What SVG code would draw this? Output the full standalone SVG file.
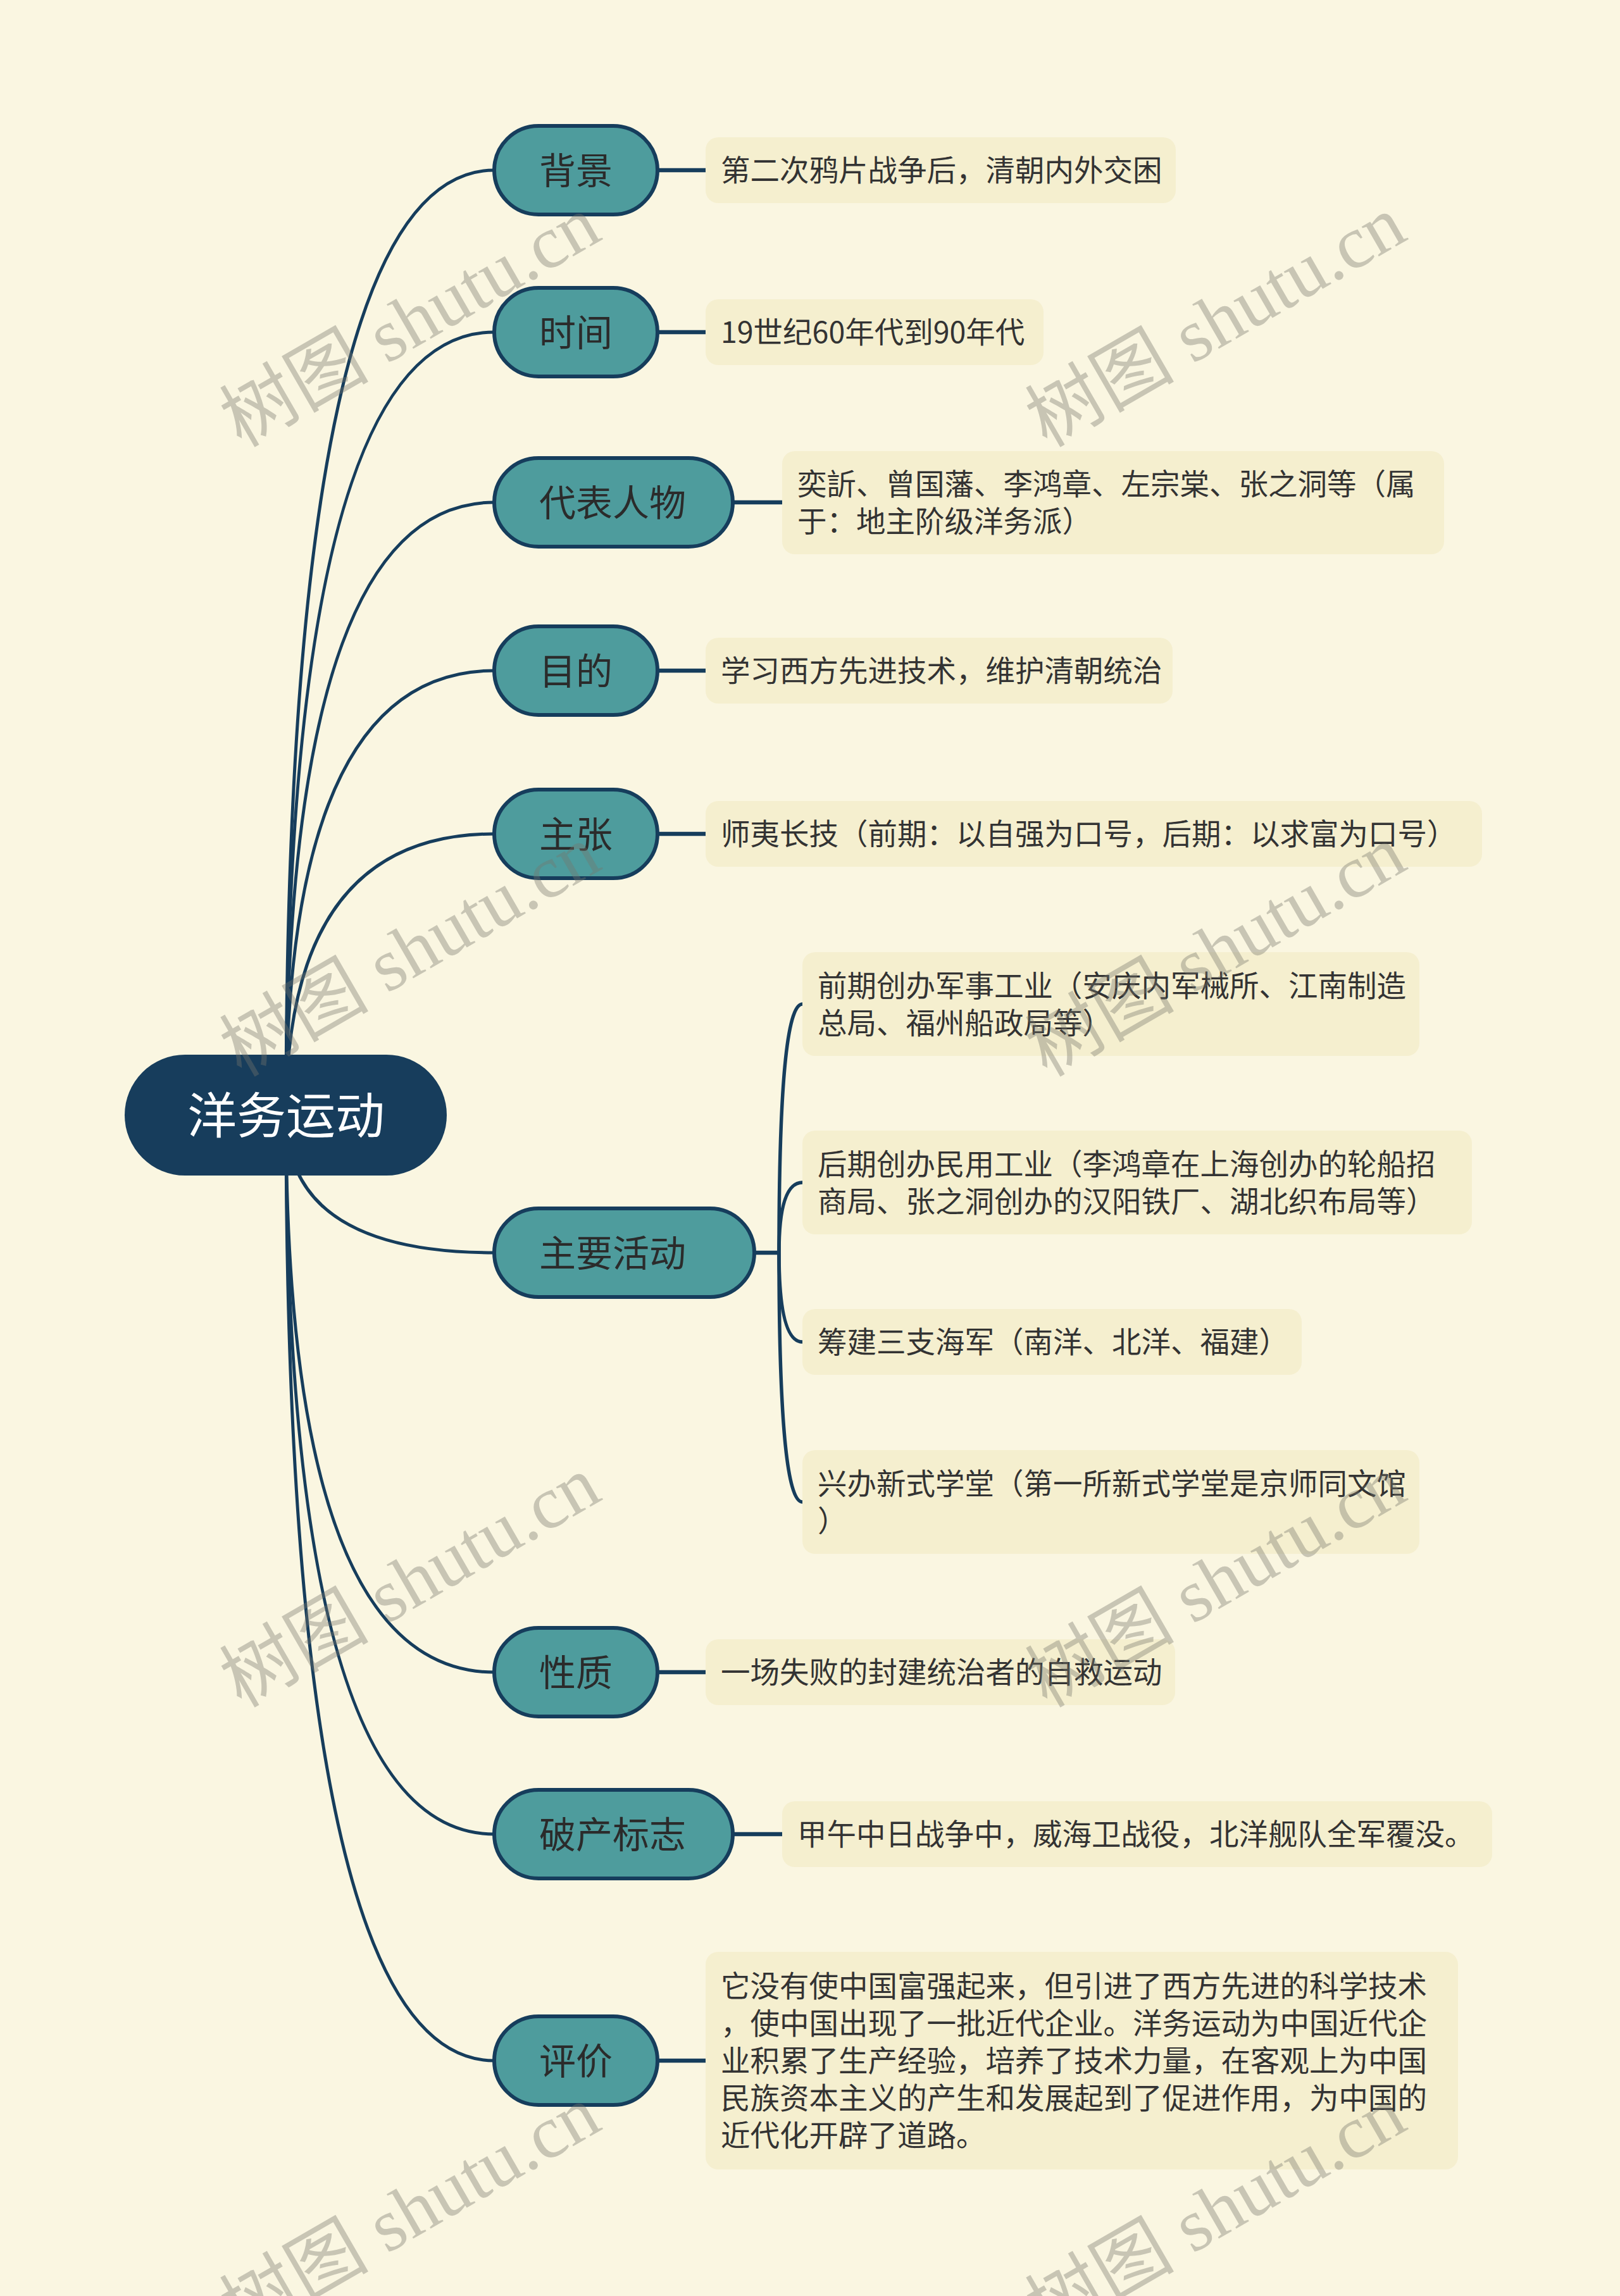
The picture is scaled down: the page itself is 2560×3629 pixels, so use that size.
<svg xmlns="http://www.w3.org/2000/svg" width="2560" height="3629" viewBox="0 0 2560 3629">
<style>
.bg{fill:#FAF6E1}
.conn{fill:none;stroke:#163D5C;stroke-width:5;stroke-linecap:round}
.lconn{fill:none;stroke:#163D5C;stroke-width:6.5}
.br{fill:none;stroke:#163D5C;stroke-width:5.5}
.node{fill:#4E9C9D;stroke:#163D5C;stroke-width:6}
.root{fill:#173D5C}
.leaf{fill:#F5EFCF}
.nt{font-family:"Noto Sans CJK SC","Noto Sans",sans-serif;font-size:58px;fill:#2B2B2B}
.rt{font-family:"Noto Sans CJK SC","Noto Sans",sans-serif;font-size:78px;fill:#FFFFFF;text-anchor:middle}
.lt{font-family:"Noto Sans CJK SC","Noto Sans",sans-serif;font-size:46.5px;fill:#333333}
.wm{font-family:"Liberation Serif","Noto Sans CJK SC",serif;font-size:118px;fill:#77756C;fill-opacity:0.38;text-anchor:middle}
</style>
<rect class="bg" x="0" y="0" width="2560" height="3629"/>
<g id="connectors">
<path class="conn" d="M452,1762 Q452,269 781,269"/>
<path class="conn" d="M452,1762 Q452,525 781,525"/>
<path class="conn" d="M452,1762 Q452,794 781,794"/>
<path class="conn" d="M452,1762 Q452,1060 781,1060"/>
<path class="conn" d="M452,1762 Q452,1318 781,1318"/>
<path class="conn" d="M452,1762 Q452,1980 781,1980"/>
<path class="conn" d="M452,1762 Q452,2643 781,2643"/>
<path class="conn" d="M452,1762 Q452,2899 781,2899"/>
<path class="conn" d="M452,1762 Q452,3257 781,3257"/>
<line class="lconn" x1="1039" y1="269" x2="1115" y2="269"/>
<line class="lconn" x1="1039" y1="525" x2="1115" y2="525"/>
<line class="lconn" x1="1158" y1="794" x2="1236" y2="794"/>
<line class="lconn" x1="1039" y1="1060" x2="1115" y2="1060"/>
<line class="lconn" x1="1039" y1="1318" x2="1115" y2="1318"/>
<line class="lconn" x1="1192" y1="1980" x2="1232" y2="1980"/>
<line class="lconn" x1="1039" y1="2643" x2="1115" y2="2643"/>
<line class="lconn" x1="1158" y1="2899" x2="1236" y2="2899"/>
<line class="lconn" x1="1039" y1="3257" x2="1115" y2="3257"/>
<path class="br" d="M1231,1980 Q1231,1587 1268,1587"/>
<path class="br" d="M1231,1980 Q1231,1869 1268,1869"/>
<path class="br" d="M1231,1980 Q1231,2121 1268,2121"/>
<path class="br" d="M1231,1980 Q1231,2374 1268,2374"/>
</g>
<g id="root">
<rect class="root" x="197" y="1667" width="509" height="191" rx="95.5"/>
<text class="rt" x="452" y="1792">洋务运动</text>
</g>
<g id="n-beijing">
<rect class="node" x="781" y="199" width="258" height="140" rx="70"/>
<text class="nt" x="852" y="291">背景</text>
</g>
<g id="l-beijing">
<rect class="leaf" x="1115" y="217" width="743" height="104" rx="20"/>
<text class="lt" x="1139" y="286">第二次鸦片战争后，清朝内外交困</text>
</g>
<g id="n-shijian">
<rect class="node" x="781" y="455" width="258" height="140" rx="70"/>
<text class="nt" x="852" y="547">时间</text>
</g>
<g id="l-shijian">
<rect class="leaf" x="1115" y="473" width="534" height="104" rx="20"/>
<text class="lt" x="1139" y="542">19世纪60年代到90年代</text>
</g>
<g id="n-daibiao">
<rect class="node" x="781" y="724" width="377" height="140" rx="70"/>
<text class="nt" x="852" y="816">代表人物</text>
</g>
<g id="l-daibiao">
<rect class="leaf" x="1236" y="713" width="1046" height="163" rx="20"/>
<text class="lt" x="1260" y="782">奕訢、曾国藩、李鸿章、左宗棠、张之洞等（属</text>
<text class="lt" x="1260" y="841">于：地主阶级洋务派）</text>
</g>
<g id="n-mudi">
<rect class="node" x="781" y="990" width="258" height="140" rx="70"/>
<text class="nt" x="852" y="1082">目的</text>
</g>
<g id="l-mudi">
<rect class="leaf" x="1115" y="1008" width="738" height="104" rx="20"/>
<text class="lt" x="1139" y="1077">学习西方先进技术，维护清朝统治</text>
</g>
<g id="n-zhuzhang">
<rect class="node" x="781" y="1248" width="258" height="140" rx="70"/>
<text class="nt" x="852" y="1340">主张</text>
</g>
<g id="l-zhuzhang">
<rect class="leaf" x="1115" y="1266" width="1227" height="104" rx="20"/>
<text class="lt" x="1139" y="1335">师夷长技（前期：以自强为口号，后期：以求富为口号）</text>
</g>
<g id="n-huodong">
<rect class="node" x="781" y="1910" width="411" height="140" rx="70"/>
<text class="nt" x="852" y="2002">主要活动</text>
</g>
<g id="l-huodong-1">
<rect class="leaf" x="1268" y="1505" width="975" height="164" rx="20"/>
<text class="lt" x="1292" y="1575">前期创办军事工业（安庆内军械所、江南制造</text>
<text class="lt" x="1292" y="1634">总局、福州船政局等）</text>
</g>
<g id="l-huodong-2">
<rect class="leaf" x="1268" y="1787" width="1058" height="164" rx="20"/>
<text class="lt" x="1292" y="1857">后期创办民用工业（李鸿章在上海创办的轮船招</text>
<text class="lt" x="1292" y="1916">商局、张之洞创办的汉阳铁厂、湖北织布局等）</text>
</g>
<g id="l-huodong-3">
<rect class="leaf" x="1268" y="2069" width="789" height="104" rx="20"/>
<text class="lt" x="1292" y="2138">筹建三支海军（南洋、北洋、福建）</text>
</g>
<g id="l-huodong-4">
<rect class="leaf" x="1268" y="2292" width="975" height="164" rx="20"/>
<text class="lt" x="1292" y="2362">兴办新式学堂（第一所新式学堂是京师同文馆</text>
<text class="lt" x="1292" y="2421">）</text>
</g>
<g id="n-xingzhi">
<rect class="node" x="781" y="2573" width="258" height="140" rx="70"/>
<text class="nt" x="852" y="2665">性质</text>
</g>
<g id="l-xingzhi">
<rect class="leaf" x="1115" y="2591" width="742" height="104" rx="20"/>
<text class="lt" x="1139" y="2660">一场失败的封建统治者的自救运动</text>
</g>
<g id="n-pochan">
<rect class="node" x="781" y="2829" width="377" height="140" rx="70"/>
<text class="nt" x="852" y="2921">破产标志</text>
</g>
<g id="l-pochan">
<rect class="leaf" x="1236" y="2847" width="1122" height="104" rx="20"/>
<text class="lt" x="1260" y="2916">甲午中日战争中，威海卫战役，北洋舰队全军覆没。</text>
</g>
<g id="n-pingjia">
<rect class="node" x="781" y="3187" width="258" height="140" rx="70"/>
<text class="nt" x="852" y="3279">评价</text>
</g>
<g id="l-pingjia">
<rect class="leaf" x="1115" y="3085" width="1189" height="344" rx="20"/>
<text class="lt" x="1139" y="3156">它没有使中国富强起来，但引进了西方先进的科学技术</text>
<text class="lt" x="1139" y="3215">，使中国出现了一批近代企业。洋务运动为中国近代企</text>
<text class="lt" x="1139" y="3274">业积累了生产经验，培养了技术力量，在客观上为中国</text>
<text class="lt" x="1139" y="3333">民族资本主义的产生和发展起到了促进作用，为中国的</text>
<text class="lt" x="1139" y="3392">近代化开辟了道路。</text>
</g>
<g id="watermarks">
<text class="wm" transform="translate(648,508) rotate(-30)" y="40">树图 shutu.cn</text>
<text class="wm" transform="translate(1921,508) rotate(-30)" y="40">树图 shutu.cn</text>
<text class="wm" transform="translate(648,1503) rotate(-30)" y="40">树图 shutu.cn</text>
<text class="wm" transform="translate(1921,1503) rotate(-30)" y="40">树图 shutu.cn</text>
<text class="wm" transform="translate(648,2500) rotate(-30)" y="40">树图 shutu.cn</text>
<text class="wm" transform="translate(1921,2500) rotate(-30)" y="40">树图 shutu.cn</text>
<text class="wm" transform="translate(648,3495) rotate(-30)" y="40">树图 shutu.cn</text>
<text class="wm" transform="translate(1921,3495) rotate(-30)" y="40">树图 shutu.cn</text>
</g>
</svg>
